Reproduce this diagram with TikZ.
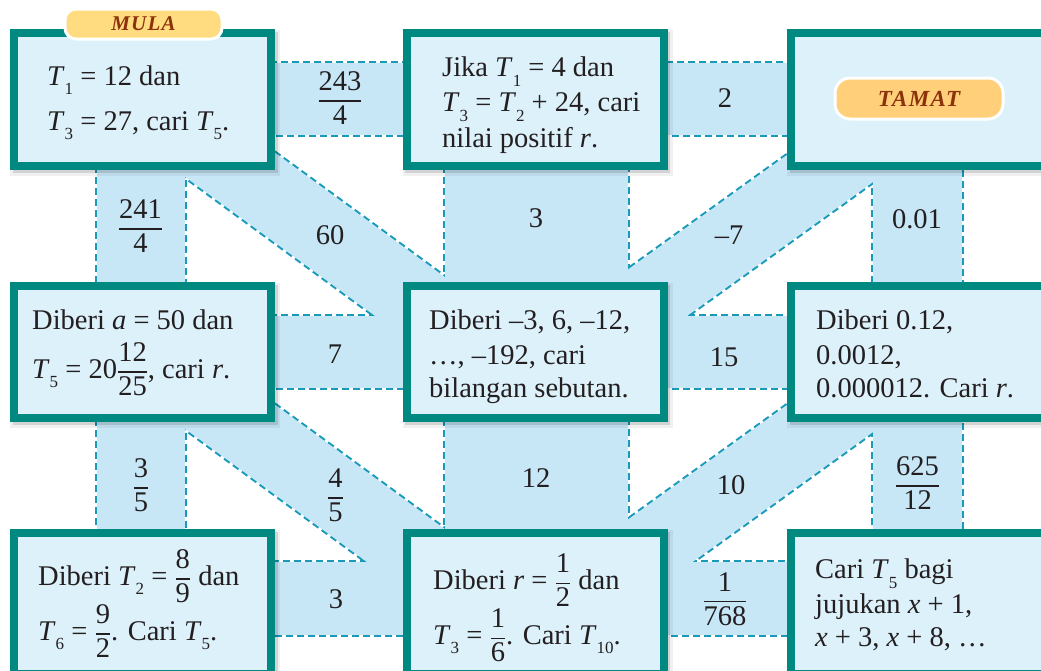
\documentclass[tikz,border=0pt]{standalone}
\usepackage{fontspec}
\usepackage{amsmath}
\setmainfont{Liberation Serif}
\definecolor{teal1}{RGB}{0,137,128}
\definecolor{boxfill}{RGB}{221,241,251}
\definecolor{bandfill}{RGB}{199,231,247}
\definecolor{dashc}{RGB}{24,154,184}
\definecolor{ink}{RGB}{35,31,32}
\definecolor{pillA}{RGB}{255,220,128}
\definecolor{pillB}{RGB}{255,207,122}
\definecolor{pilltext}{RGB}{140,50,10}
\newcommand\sbs[1]{\raisebox{-0.33em}{\fontsize{17}{17}\selectfont #1}}
\newcommand\fr[2]{\ensuremath{\genfrac{}{}{1.3pt}{0}{\text{#1}}{\text{#2}}}}
\newcommand\vi[1]{\textit{#1}}
\newcommand\bandpolys[1]{%
  \path[#1] (150,62.5) rectangle (950,134.5);
  \path[#1] (150,316) rectangle (950,388);
  \path[#1] (150,562) rectangle (950,635);
  \path[#1] (97,100) rectangle (185,600);
  \path[#1] (445,100) rectangle (628,600);
  \path[#1] (873,100) rectangle (962,600);
  \path[#1] (150,61.2) -- (500,317.4) -- (500,407.4) -- (150,151.2) -- cycle;
  \path[#1] (930,52) -- (560,318.4) -- (560,407.4) -- (930,141) -- cycle;
  \path[#1] (150,313.2) -- (500,569.4) -- (500,659.4) -- (150,403.2) -- cycle;
  \path[#1] (930,302) -- (560,568.4) -- (560,657.4) -- (930,391) -- cycle;
}
\begin{document}
\begin{tikzpicture}[x=1pt,y=-1pt,
  box/.style={draw=teal1, line width=8pt, fill=boxfill, minimum width=257pt,
    minimum height=#1, inner sep=0pt, outer sep=0pt,
    preaction={draw=black, fill=black, line width=13pt, opacity=0.06,
      transform canvas={xshift=2.5pt, yshift=-3pt}},
    preaction={draw=black, fill=black, line width=8pt, opacity=0.12,
      transform canvas={xshift=2.5pt, yshift=-3pt}}},
  txt/.style={anchor=west, align=left, inner sep=0pt, text=ink,
    font=\fontsize{28.5}{34}\selectfont},
  lbl/.style={inner sep=0pt, text=ink, font=\fontsize{28.5}{34}\selectfont},
  bandedge/.style={draw=dashc, line width=4pt, dash pattern=on 7pt off 4pt},
  band/.style={fill=bandfill},
  pill/.style={draw=white, line width=3pt, inner sep=0pt, text=pilltext}
]
\useasboundingbox (0,0) rectangle (1041,670);
\clip (0,0) rectangle (1041,670);

% bands
\bandpolys{bandedge}
\bandpolys{band}

% boxes
\node[box=133pt] (b1) at (142.5,99.5) {};
\node[box=133pt] (b2) at (535,99.5) {};
\node[box=133pt] (b3) at (919.5,99.5) {};
\node[box=132pt] (b4) at (142.5,352) {};
\node[box=132pt] (b5) at (535,352) {};
\node[box=132pt] (b6) at (919.5,352) {};
\node[box=141pt] (b7) at (142.5,603.5) {};
\node[box=141pt] (b8) at (535,603.5) {};
\node[box=141pt] (b9) at (919.5,603.5) {};

% box texts
\node[txt] (t1) at (47,102.4) {\vi{T}\sbs{1} = 12 dan\\[11pt]\vi{T}\sbs{3} = 27, cari \vi{T}\sbs{5}.};
\node[txt] (t2) at (442,105.3) {Jika \vi{T}\sbs{1} = 4 dan\\[1pt]\vi{T}\sbs{3} = \vi{T}\sbs{2} + 24, cari\\[2pt]nilai positif \vi{r}.};
\node[txt] (t4) at (32,352.5) {Diberi \vi{a} = 50 dan\\[12pt]\vi{T}\sbs{5} = 20\fr{12}{25}, cari \vi{r}.};
\node[txt] (t5) at (429,356.7) {Diberi –3, 6, –12,\\[1pt]…, –192, cari\\[-1pt]bilangan sebutan.};
\node[txt] (t6) at (816,354) {Diberi 0.12,\\[1pt]0.0012,\\[-1pt]0.000012. Cari \vi{r}.};
\node[txt] (t7) at (38,603.4) {Diberi \vi{T}\sbs{2} = \fr{8}{9} dan\\[1pt]\vi{T}\sbs{6} = \fr{9}{2}. Cari \vi{T}\sbs{5}.};
\node[txt] (t8) at (433,608) {Diberi \vi{r} = \fr{1}{2} dan\\[1pt]\vi{T}\sbs{3} = \fr{1}{6}. Cari \vi{T}\sbs{10}.};
\node[txt] (t9) at (815,605) {Cari \vi{T}\sbs{5} bagi\\[1pt]jujukan \vi{x} + 1,\\[-1pt]\vi{x} + 3, \vi{x} + 8, …};

% band labels
\node[lbl] (l1) at (340,98) {\fr{243}{4}};
\node[lbl] (l2) at (725,98) {2};
\node[lbl] (l3) at (140.5,226) {\fr{241}{4}};
\node[lbl] (l4) at (330,235) {60};
\node[lbl] (l5) at (536,218) {3};
\node[lbl] (l6) at (729,235) {–7};
\node[lbl] (l7) at (917,219) {0.01};
\node[lbl] (l8) at (335,354) {7};
\node[lbl] (l9) at (724,357) {15};
\node[lbl] (l10) at (141,485) {\fr{3}{5}};
\node[lbl] (l11) at (335.5,495) {\fr{4}{5}};
\node[lbl] (l12) at (536,478) {12};
\node[lbl] (l13) at (731,485) {10};
\node[lbl] (l14) at (917.5,483) {\fr{625}{12}};
\node[lbl] (l15) at (336,599) {3};
\node[lbl] (l16) at (725,599) {\fr{1}{768}};

% start / end tags
\node[pill, fill=pillA, rounded corners=11pt, minimum width=157pt, minimum height=30pt,
  font=\fontsize{21}{21}\selectfont\bfseries\itshape\addfontfeature{LetterSpace=6}]
  (mula) at (143.5,24) {MULA};
\node[pill, fill=pillB, rounded corners=15pt, minimum width=168pt, minimum height=41pt,
  font=\fontsize{23}{23}\selectfont\bfseries\itshape\addfontfeature{LetterSpace=6}]
  (tamat) at (919,98.5) {TAMAT};
\end{tikzpicture}
\end{document}
